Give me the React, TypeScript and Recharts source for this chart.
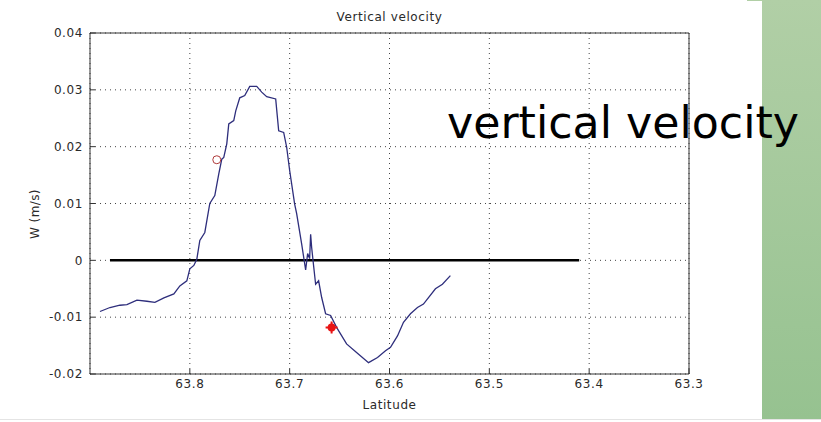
import { ComposedChart, Line, Scatter, XAxis, YAxis, CartesianGrid, Label } from "recharts"

// latitude (deg N) and vertical velocity W (m/s)
const latitude = [
  63.89, 63.88, 63.87, 63.863, 63.853, 63.843, 63.835, 63.826, 63.816, 63.81,
  63.803, 63.8, 63.796, 63.793, 63.79, 63.785, 63.78, 63.775, 63.771, 63.768,
  63.766, 63.763, 63.761, 63.756, 63.754, 63.75, 63.745, 63.74, 63.733, 63.728,
  63.723, 63.714, 63.711, 63.706, 63.703, 63.7, 63.695, 63.693, 63.688, 63.684,
  63.682, 63.68, 63.679, 63.678, 63.676, 63.674, 63.671, 63.668, 63.664, 63.659,
  63.653, 63.643, 63.633, 63.621, 63.612, 63.604, 63.599, 63.592, 63.586, 63.579,
  63.572, 63.566, 63.554, 63.547, 63.539,
]
const velocity = [
  -0.009, -0.0083, -0.0079, -0.0078, -0.007, -0.0072, -0.0074, -0.0066, -0.0059, -0.0045,
  -0.0036, -0.0015, -0.0009, 0.0002, 0.0035, 0.0049, 0.01, 0.0114, 0.0152, 0.0178,
  0.0181, 0.0205, 0.024, 0.0246, 0.0263, 0.0286, 0.029, 0.0306, 0.0306, 0.0296,
  0.0288, 0.0284, 0.0228, 0.0225, 0.0199, 0.0158, 0.0099, 0.0082, 0.0029, -0.0017,
  0.0012, 0.0003, 0.0046, 0.0023, -0.001, -0.0042, -0.0036, -0.0065, -0.0094, -0.0097,
  -0.0118, -0.0147, -0.0162, -0.018, -0.0171, -0.0159, -0.0153, -0.0133, -0.0109, -0.0094,
  -0.0083, -0.0077, -0.005, -0.0042, -0.0027,
]

// reference zero line and the two marked stations
const zeroLat = [63.88, 63.41]
const circleStation = { lat: 63.773, w: 0.0177 }
const starStation = { lat: 63.658, w: -0.0118 }

const xTicks = [63.3, 63.4, 63.5, 63.6, 63.7, 63.8]
const yTicks = [-0.02, -0.01, 0, 0.01, 0.02, 0.03, 0.04]

const curve = latitude.map((lat, i) => ({ lat, w: velocity[i] }))
const zeroLine = zeroLat.map((lat) => ({ lat, w: 0 }))

const font = "'DejaVu Sans', 'Liberation Sans', sans-serif"
const textStyle = { fontSize: 12, fill: "#2a2a2a", fontFamily: font, letterSpacing: 0.6 }
const axisStroke = "#333"

export default function App() {
  return (
    <div style={{ position: "absolute", left: 0, top: 0, width: 821, height: 422, background: "#fff", overflow: "hidden" }}>
      <ComposedChart width={821} height={422} margin={{ top: 32, right: 131, bottom: 0, left: 0 }}>
        <CartesianGrid stroke="#444" strokeDasharray="1 4" />
        <XAxis
          dataKey="lat"
          type="number"
          domain={[63.3, 63.9]}
          reversed
          ticks={xTicks}
          tickFormatter={(v: number) => v.toFixed(1)}
          height={48}
          tickSize={-5}
          tickMargin={10}
          tick={textStyle}
          stroke={axisStroke}
          allowDataOverflow
        >
          <Label value="Latitude" position="insideBottom" offset={13} style={textStyle} />
        </XAxis>
        <XAxis
          xAxisId="top"
          orientation="top"
          type="number"
          domain={[63.3, 63.9]}
          reversed
          ticks={xTicks}
          height={1}
          tickSize={-5}
          tick={false}
          stroke={axisStroke}
        >
          <Label value="Vertical velocity" position="top" offset={11} style={textStyle} />
        </XAxis>
        <YAxis
          dataKey="w"
          type="number"
          domain={[-0.02, 0.04]}
          ticks={yTicks}
          tickFormatter={(v: number) => String(v)}
          width={90}
          tickSize={-5}
          tickMargin={12}
          tick={textStyle}
          stroke={axisStroke}
          allowDataOverflow
        >
          <Label
            content={() => (
              <text transform="translate(35,214) rotate(-90)" textAnchor="middle" dominantBaseline="middle" fontSize={12} letterSpacing={0.4} fill="#2a2a2a" fontFamily={font}>
                W (m/s)
              </text>
            )}
          />
        </YAxis>
        <YAxis
          yAxisId="right"
          orientation="right"
          type="number"
          domain={[-0.02, 0.04]}
          ticks={yTicks}
          width={1}
          tickSize={-5}
          tick={false}
          stroke={axisStroke}
        />
        <Line data={zeroLine} dataKey="w" stroke="#000" strokeWidth={2.5} dot={false} isAnimationActive={false} />
        <Line data={curve} dataKey="w" stroke="#2e2e7c" strokeWidth={1.3} dot={false} isAnimationActive={false} />
        <Scatter
          data={[circleStation]}
          dataKey="w"
          isAnimationActive={false}
          shape={(p: any) => <circle cx={p.cx} cy={p.cy} r={4} fill="none" stroke="#b03a3a" strokeWidth={1} />}
        />
        <Scatter
          data={[starStation]}
          dataKey="w"
          isAnimationActive={false}
          shape={(p: any) => (
            <g>
              <circle cx={p.cx} cy={p.cy} r={4} fill="#e81414" />
              <path d={`M${p.cx - 6},${p.cy}H${p.cx + 6}M${p.cx},${p.cy - 6}V${p.cy + 6}`} stroke="#e81414" strokeWidth={2} />
            </g>
          )}
        />
      </ComposedChart>
      <div style={{ position: "absolute", left: 762, top: 0, width: 59, height: 419, background: "linear-gradient(#b1cfa6, #96c290)" }} />
      <div style={{ position: "absolute", left: 747, top: 0, width: 15, height: 1, background: "#b1cfa6" }} />
      <div style={{ position: "absolute", left: 0, top: 419, width: 821, height: 1, background: "#e4e4e4" }} />
      <svg width={821} height={422} style={{ position: "absolute", left: 0, top: 0, pointerEvents: "none" }}>
        <text x={447} y={138} fontSize={44} fontFamily="'DejaVu Sans', sans-serif" fill="#000" textLength={352} lengthAdjust="spacingAndGlyphs">
          vertical velocity
        </text>
      </svg>
    </div>
  )
}
